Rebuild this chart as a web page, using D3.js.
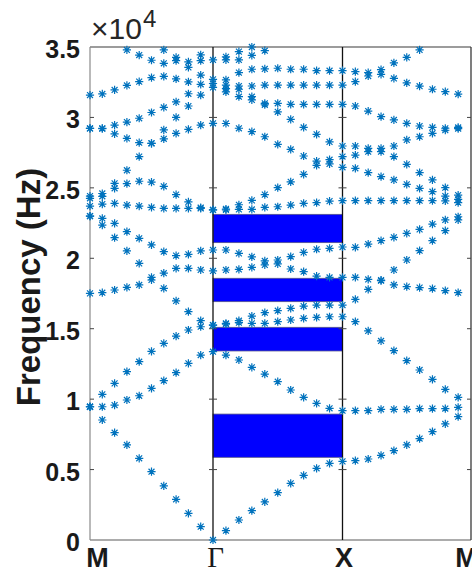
<!DOCTYPE html>
<html>
<head>
<meta charset="utf-8">
<script src="https://cdn.jsdelivr.net/npm/d3@7/dist/d3.min.js"></script>
<style>
  body { margin: 0; background: #fff; }
</style>
</head>
<body>
<svg id="chart" width="472" height="572"></svg>
<script>
// High-symmetry points along the k path
const kLabels = ["M", "Γ", "X", "M"];
const kTicks = [0, 10, 20, 30];
const yTicks = [0, 0.5, 1, 1.5, 2, 2.5, 3, 3.5];

// Band gaps (x1e4 Hz), drawn between Γ and X
const gapLow = [0.587, 1.342, 1.692, 2.111];
const gapHigh = [0.894, 1.510, 1.858, 2.312];

// k indices of each path segment
const kMG = [0, 1, 2, 3, 4, 5, 6, 7, 8, 9, 10];
const kGX = [11, 12, 13, 14, 15, 16, 17, 18, 19, 20];
const kXM = [21, 22, 23, 24, 25, 26, 27, 28, 29];

// Eigenfrequencies (x1e4 Hz), one row per band
const bandsMG = [
  [0.946, 0.852, 0.762, 0.675, 0.580, 0.485, 0.384, 0.289, 0.189, 0.095, 0.000],
  [0.946, 0.946, 0.958, 0.994, 1.024, 1.076, 1.131, 1.188, 1.254, 1.313, 1.337],
  [0.946, 1.034, 1.112, 1.195, 1.266, 1.339, 1.396, 1.448, 1.491, 1.514, 1.526],
  [1.751, 1.756, 1.775, 1.794, 1.811, 1.846, 1.894, 1.929, 1.929, 1.917, 1.910],
  [2.300, 2.236, 2.146, 2.052, 1.964, 1.865, 1.787, 1.697, 1.621, 1.557, 1.526],
  [2.300, 2.283, 2.248, 2.189, 2.142, 2.095, 2.047, 2.019, 2.028, 2.052, 2.059],
  [2.371, 2.385, 2.390, 2.378, 2.371, 2.361, 2.354, 2.354, 2.354, 2.354, 2.343],
  [2.426, 2.440, 2.497, 2.530, 2.547, 2.540, 2.511, 2.452, 2.400, 2.360, 2.343],
  [2.442, 2.460, 2.532, 2.625, 2.722, 2.816, 2.911, 3.000, 3.081, 3.159, 3.213],
  [2.922, 2.920, 2.883, 2.851, 2.821, 2.816, 2.848, 2.887, 2.915, 2.945, 2.958],
  [2.922, 2.923, 2.946, 2.967, 2.994, 3.035, 3.071, 3.110, 3.168, 3.235, 3.241],
  [3.159, 3.167, 3.195, 3.227, 3.254, 3.283, 3.292, 3.274, 3.253, 3.301, 3.270],
  [null, null, null, 3.479, 3.443, 3.406, 3.384, 3.403, 3.355, 3.403, 3.408],
  [null, null, null, null, null, null, 3.479, 3.426, 3.395, 3.444, null],
];

const bandsGX = [
  [0.066, 0.142, 0.208, 0.270, 0.336, 0.402, 0.459, 0.509, 0.544, 0.558],
  [1.313, 1.278, 1.226, 1.178, 1.124, 1.065, 1.013, 0.970, 0.935, 0.918],
  [1.533, 1.543, 1.538, 1.538, 1.550, 1.562, 1.574, 1.580, 1.585, 1.585],
  [1.538, 1.557, 1.590, 1.614, 1.628, 1.645, 1.661, 1.668, 1.668, 1.668],
  [1.917, 1.921, 1.936, 1.953, 1.960, 1.924, 1.905, 1.874, 1.864, 1.864],
  [2.059, 2.035, 2.010, 1.981, 1.988, 2.012, 2.042, 2.064, 2.071, 2.080],
  [2.343, 2.347, 2.347, 2.361, 2.366, 2.378, 2.390, 2.395, 2.406, 2.409],
  [2.350, 2.380, 2.411, 2.452, 2.501, 2.543, 2.596, 2.660, 2.670, 2.646],
  [2.957, 2.923, 2.899, 2.863, 2.809, 2.773, 2.726, 2.690, 2.700, 2.722],
  [3.182, 3.147, 3.124, 3.090, 3.040, 2.986, 2.929, 2.880, 2.826, 2.797],
  [3.205, 3.200, 3.147, 3.100, 3.100, 3.093, 3.093, 3.093, 3.093, 3.093],
  [3.230, 3.223, 3.223, 3.230, 3.230, 3.230, 3.230, 3.230, 3.230, 3.230],
  [3.266, 3.318, 3.342, 3.344, 3.349, 3.342, 3.342, 3.332, 3.332, 3.332],
  [3.408, 3.408, 3.440, 3.474, null, null, null, null, null, null],
  [3.430, 3.467, 3.500, null, null, null, null, null, null, null],
];

const bandsXM = [
  [0.563, 0.575, 0.601, 0.634, 0.675, 0.720, 0.769, 0.824, 0.876],
  [0.918, 0.918, 0.928, 0.928, 0.928, 0.933, 0.933, 0.933, 0.942],
  [1.550, 1.484, 1.413, 1.344, 1.273, 1.207, 1.141, 1.070, 1.013],
  [1.708, 1.779, 1.845, 1.917, 1.988, 2.054, 2.125, 2.196, 2.272],
  [1.864, 1.850, 1.841, 1.811, 1.799, 1.792, 1.785, 1.771, 1.756],
  [2.078, 2.101, 2.125, 2.149, 2.177, 2.205, 2.243, 2.272, 2.295],
  [2.409, 2.409, 2.409, 2.409, 2.409, 2.409, 2.409, 2.407, 2.395],
  [2.639, 2.608, 2.580, 2.556, 2.525, 2.497, 2.473, 2.442, 2.418],
  [2.733, 2.757, 2.757, 2.722, 2.667, 2.608, 2.556, 2.501, 2.449],
  [2.797, 2.780, 2.780, 2.797, 2.840, 2.863, 2.887, 2.909, 2.920],
  [3.081, 3.045, 3.005, 2.982, 2.958, 2.939, 2.929, 2.923, 2.929],
  [3.254, 3.294, 3.305, 3.277, 3.246, 3.222, 3.200, 3.183, 3.166],
  [3.325, 3.318, 3.340, 3.388, 3.426, 3.479, null, null, null],
];

// Layout
const plot = { left: 90, right: 471, top: 47, bottom: 540 };
const markerColor = "#0072BD";

const svg = d3.select("#chart");

const xScale = d3
  .scaleLinear()
  .domain(kTicks)
  .range([plot.left, 213, 342.5, plot.right]);
const yScale = d3
  .scaleLinear()
  .domain([0, 3.5])
  .range([plot.bottom, plot.top]);

// Flatten segments into points
const segments = [
  { k: kMG, bands: bandsMG },
  { k: kGX, bands: bandsGX },
  { k: kXM, bands: bandsXM },
];
const points = [];
segments.forEach((seg) => {
  seg.bands.forEach((band) => {
    band.forEach((f, i) => {
      if (f !== null) points.push({ k: seg.k[i], f: f });
    });
  });
});

// Band gap rectangles
svg
  .append("g")
  .attr("class", "gaps")
  .selectAll("rect")
  .data(gapLow.map((d, i) => ({ lo: d, hi: gapHigh[i] })))
  .join("rect")
  .attr("x", xScale(10))
  .attr("width", xScale(20) - xScale(10))
  .attr("y", (d) => yScale(d.hi))
  .attr("height", (d) => yScale(d.lo) - yScale(d.hi))
  .attr("fill", "#0000FF")
  .attr("stroke", "#55558a")
  .attr("stroke-width", 0.8);

// Frame
const frame = svg.append("g").attr("class", "frame");
frame
  .append("line")
  .attr("x1", plot.left).attr("x2", plot.right)
  .attr("y1", plot.top).attr("y2", plot.top)
  .attr("stroke", "#3a3a3a").attr("stroke-width", 1.2);
frame
  .append("line")
  .attr("x1", plot.left).attr("x2", plot.right)
  .attr("y1", plot.bottom).attr("y2", plot.bottom)
  .attr("stroke", "#5a5a5a").attr("stroke-width", 1.2);
frame
  .append("line")
  .attr("x1", plot.left).attr("x2", plot.left)
  .attr("y1", plot.top).attr("y2", plot.bottom)
  .attr("stroke", "#8a8a8a").attr("stroke-width", 1.2);

// Vertical lines at Γ, X and the right M
frame
  .selectAll(".kline")
  .data(kTicks.slice(1))
  .join("line")
  .attr("class", "kline")
  .attr("x1", (d) => xScale(d))
  .attr("x2", (d) => xScale(d))
  .attr("y1", plot.top)
  .attr("y2", plot.bottom)
  .attr("stroke", (d) => (d === 30 ? "#3a3a3a" : "#111"))
  .attr("stroke-width", 1.3);

// Small y ticks on every vertical line
const tickLen = 4;
const tickSegs = [];
kTicks.forEach((k) => {
  yTicks.slice(1, -1).forEach((t) => {
    const x0 = xScale(k);
    tickSegs.push({
      x1: k === 0 ? x0 : x0 - tickLen,
      x2: k === 30 ? x0 : x0 + tickLen,
      y: yScale(t),
    });
  });
});
frame
  .selectAll(".ytick")
  .data(tickSegs)
  .join("line")
  .attr("class", "ytick")
  .attr("x1", (d) => d.x1)
  .attr("x2", (d) => d.x2)
  .attr("y1", (d) => d.y)
  .attr("y2", (d) => d.y)
  .attr("stroke", "#444")
  .attr("stroke-width", 1);

// Asterisk markers
const r = 4.1;
const dd = r * 0.72;
const starPath =
  `M${-r},0H${r}M0,${-r}V${r}` +
  `M${-dd},${-dd}L${dd},${dd}M${-dd},${dd}L${dd},${-dd}`;

svg
  .append("g")
  .attr("class", "markers")
  .selectAll("path")
  .data(points)
  .join("path")
  .attr("transform", (d) => `translate(${xScale(d.k)},${yScale(d.f)})`)
  .attr("d", starPath)
  .attr("fill", "none")
  .attr("stroke", markerColor)
  .attr("stroke-width", 1.2);

// Y axis labels
const yAxis = d3
  .axisLeft(yScale)
  .tickValues(yTicks)
  .tickSize(0)
  .tickPadding(10)
  .tickFormat((d) => d3.format("")(d));
svg
  .append("g")
  .attr("class", "y-axis")
  .attr("transform", `translate(${plot.left},0)`)
  .call(yAxis)
  .call((g) => g.select(".domain").remove())
  .selectAll("text")
  .attr("dy", "0.42em")
  .style("font-family", "'Liberation Sans', Arial, sans-serif")
  .style("font-size", "25px")
  .style("font-weight", "bold")
  .attr("fill", "#1a1a1a");

// X axis labels (k points)
const xShift = [7, 2, 1, -5];
const xAxis = d3
  .axisBottom(xScale)
  .tickValues(kTicks)
  .tickSize(0)
  .tickPadding(0)
  .tickFormat((d, i) => kLabels[i]);
svg
  .append("g")
  .attr("class", "x-axis")
  .attr("transform", `translate(0,${plot.bottom})`)
  .call(xAxis)
  .call((g) => g.select(".domain").remove())
  .selectAll("text")
  .attr("y", 27)
  .attr("dy", 0)
  .attr("dx", (d, i) => xShift[i])
  .attr("fill", "#1a1a1a")
  .style("font-family", (d, i) =>
    i === 1 ? "'Liberation Serif', 'Times New Roman', serif" : "'Liberation Sans', Arial, sans-serif"
  )
  .style("font-weight", (d, i) => (i === 1 ? "normal" : "bold"))
  .style("font-size", (d, i) => (i === 1 ? "29px" : "27px"));

// Exponent label
const expo = svg
  .append("text")
  .attr("x", 91)
  .attr("y", 39)
  .attr("fill", "#262626")
  .attr("font-family", "'Liberation Sans', Arial, sans-serif")
  .attr("font-size", 30);
expo.append("tspan").text("×10");
expo
  .append("tspan")
  .attr("dx", 1)
  .attr("dy", -12)
  .attr("font-size", 24)
  .text("4");

// Y axis title
svg
  .append("text")
  .attr("transform", `translate(40,287) rotate(-90)`)
  .attr("text-anchor", "middle")
  .attr("fill", "#1a1a1a")
  .style("font-family", "'Liberation Sans', Arial, sans-serif")
  .style("font-size", "33px")
  .style("font-weight", "bold")
  .text("Frequency (Hz)");
</script>
</body>
</html>
